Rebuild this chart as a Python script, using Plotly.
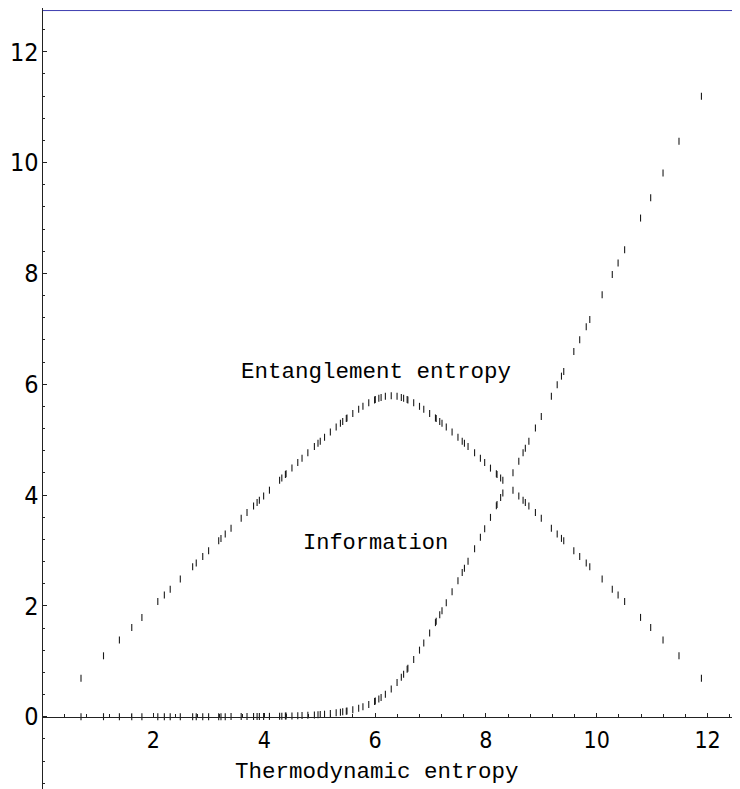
import plotly.graph_objects as go

# Thermodynamic entropy (x) for each subsystem, entanglement entropy and information
x_vals = [
    0.693, 1.099, 1.386, 1.609, 1.792, 2.079, 2.197, 2.303, 2.485, 2.708,
    2.773, 2.890, 2.996, 3.178, 3.219, 3.296, 3.401, 3.584, 3.689, 3.807,
    3.871, 3.912, 3.989, 4.094, 4.277, 4.317, 4.382, 4.394, 4.500, 4.605,
    4.682, 4.787, 4.905, 4.970, 5.011, 5.088, 5.193, 5.298, 5.375, 5.416,
    5.481, 5.493, 5.598, 5.704, 5.781, 5.886, 5.991, 6.004, 6.068, 6.109,
    6.186, 6.292,
    6.397, 6.474, 6.515, 6.579, 6.592, 6.697, 6.802, 6.879, 6.985, 7.090,
    7.103, 7.167, 7.208, 7.285, 7.390, 7.496, 7.573, 7.613, 7.678, 7.796,
    7.901, 7.978, 8.083, 8.189, 8.201, 8.266, 8.306, 8.489, 8.594, 8.671,
    8.712, 8.776, 8.894, 9.000, 9.182, 9.287, 9.364, 9.405, 9.587, 9.693,
    9.811, 9.875, 10.098, 10.281, 10.386, 10.504, 10.791, 10.974, 11.197,
    11.485, 11.890,
]

entanglement = [
    0.693, 1.099, 1.386, 1.609, 1.792, 2.079, 2.197, 2.302, 2.485, 2.708,
    2.772, 2.890, 2.995, 3.177, 3.218, 3.295, 3.400, 3.581, 3.686, 3.803,
    3.867, 3.908, 3.984, 4.088, 4.268, 4.308, 4.371, 4.383, 4.486, 4.588,
    4.662, 4.763, 4.874, 4.934, 4.972, 5.043, 5.137, 5.230, 5.295, 5.329,
    5.382, 5.392, 5.473, 5.549, 5.601, 5.664, 5.717, 5.723, 5.748, 5.762,
    5.781, 5.792,
    5.781, 5.762, 5.748, 5.723, 5.717, 5.664, 5.601, 5.549, 5.473, 5.392,
    5.382, 5.329, 5.295, 5.230, 5.137, 5.043, 4.972, 4.934, 4.874, 4.763,
    4.662, 4.588, 4.486, 4.383, 4.371, 4.308, 4.268, 4.088, 3.984, 3.908,
    3.867, 3.803, 3.686, 3.581, 3.400, 3.295, 3.218, 3.177, 2.995, 2.890,
    2.772, 2.708, 2.485, 2.302, 2.197, 2.079, 1.792, 1.609, 1.386,
    1.099, 0.693,
]

information = [
    0.000, 0.000, 0.000, 0.000, 0.000, 0.000, 0.000, 0.000, 0.000, 0.000,
    0.000, 0.001, 0.001, 0.001, 0.001, 0.001, 0.002, 0.002, 0.003, 0.003,
    0.004, 0.004, 0.005, 0.006, 0.009, 0.010, 0.011, 0.011, 0.014, 0.017,
    0.020, 0.025, 0.031, 0.036, 0.039, 0.045, 0.056, 0.069, 0.080, 0.087,
    0.099, 0.101, 0.125, 0.154, 0.180, 0.222, 0.274, 0.281, 0.320, 0.347,
    0.405, 0.500,
    0.616, 0.712, 0.767, 0.856, 0.875, 1.033, 1.201, 1.330, 1.512, 1.698,
    1.721, 1.838, 1.913, 2.055, 2.253, 2.453, 2.601, 2.679, 2.804, 3.033,
    3.239, 3.390, 3.597, 3.806, 3.830, 3.958, 4.038, 4.401, 4.610, 4.763,
    4.845, 4.973, 5.208, 5.419, 5.782, 5.992, 6.146, 6.228, 6.592, 6.803,
    7.039, 7.167, 7.613, 7.979, 8.189, 8.425, 8.999, 9.365, 9.811,
    10.386, 11.197,
]

x_ticks = [2, 4, 6, 8, 10, 12]
y_ticks = [0, 2, 4, 6, 8, 10, 12]

label_ent = "Entanglement entropy"
label_info = "Information"
label_x = "Thermodynamic entropy"

# page has an 8px body margin, so the figure is 8px smaller on each side
FIG_W, FIG_H = 732, 781
X_RANGE = [0, 12.586]
Y_RANGE = [-1.305, 12.79]
X_DOMAIN = [0.04727, 1.0]
Y_DOMAIN = [0.0, 1.0]
X_AXIS_POS = Y_DOMAIN[1] * (0 - Y_RANGE[0]) / (Y_RANGE[1] - Y_RANGE[0])

marker_style = dict(symbol="line-ns", size=5, line=dict(width=1.1, color="#1a1a1a"), color="#1a1a1a")

fig = go.Figure()
fig.add_trace(go.Scatter(x=x_vals, y=entanglement, mode="markers", marker=marker_style,
                         name=label_ent, showlegend=False, cliponaxis=False))
fig.add_trace(go.Scatter(x=x_vals, y=information, mode="markers", marker=marker_style,
                         name=label_info, showlegend=False, cliponaxis=False))

mono = "Liberation Mono, Courier New, monospace"
narrow = "Liberation Sans Narrow, Arial Narrow, DejaVu Sans Condensed, sans-serif"

fig.add_annotation(x=6.017, y=6.22, text=label_ent, showarrow=False,
                   font=dict(family=mono, size=22.5, color="#000"), xanchor="center", yanchor="middle")
fig.add_annotation(x=6.013, y=3.13, text=label_info, showarrow=False,
                   font=dict(family=mono, size=22, color="#000"), xanchor="center", yanchor="middle")
fig.add_annotation(x=6.03, y=-1.0, text=label_x, showarrow=False,
                   font=dict(family=mono, size=22.5, color="#000"), xanchor="center", yanchor="middle")

# top frame line
fig.add_shape(type="line", xref="x", yref="y", x0=0, x1=X_RANGE[1], y0=12.744, y1=12.744,
              line=dict(color="#3c3cb0", width=1))

fig.update_layout(
    width=FIG_W, height=FIG_H,
    margin=dict(l=0, r=0, t=0, b=0),
    paper_bgcolor="white", plot_bgcolor="white",
    showlegend=False,
    xaxis=dict(
        range=X_RANGE, domain=X_DOMAIN, anchor="free", position=X_AXIS_POS,
        showgrid=False, zeroline=False, showline=True, linecolor="#222", linewidth=1.2,
        tickmode="array", tickvals=x_ticks, ticktext=[str(v) for v in x_ticks],
        ticks="inside", ticklen=4, tickcolor="#222", tickwidth=1,
        tickfont=dict(family=narrow, size=23, color="#000"),
        minor=dict(tick0=0, dtick=0.4, ticks="inside", ticklen=2.5, tickcolor="#222", tickwidth=1),
        ticklabelstandoff=3,
    ),
    yaxis=dict(
        range=Y_RANGE, domain=Y_DOMAIN, anchor="x",
        showgrid=False, zeroline=False, showline=True, linecolor="#222", linewidth=1.2,
        tickmode="array", tickvals=y_ticks, ticktext=[str(v) for v in y_ticks],
        ticks="inside", ticklen=4, tickcolor="#222", tickwidth=1,
        tickfont=dict(family=narrow, size=25, color="#000"),
        minor=dict(tick0=0, dtick=0.4, ticks="inside", ticklen=2.5, tickcolor="#222", tickwidth=1),
        ticklabelstandoff=-2,
    ),
)

fig.write_html("out.html")
